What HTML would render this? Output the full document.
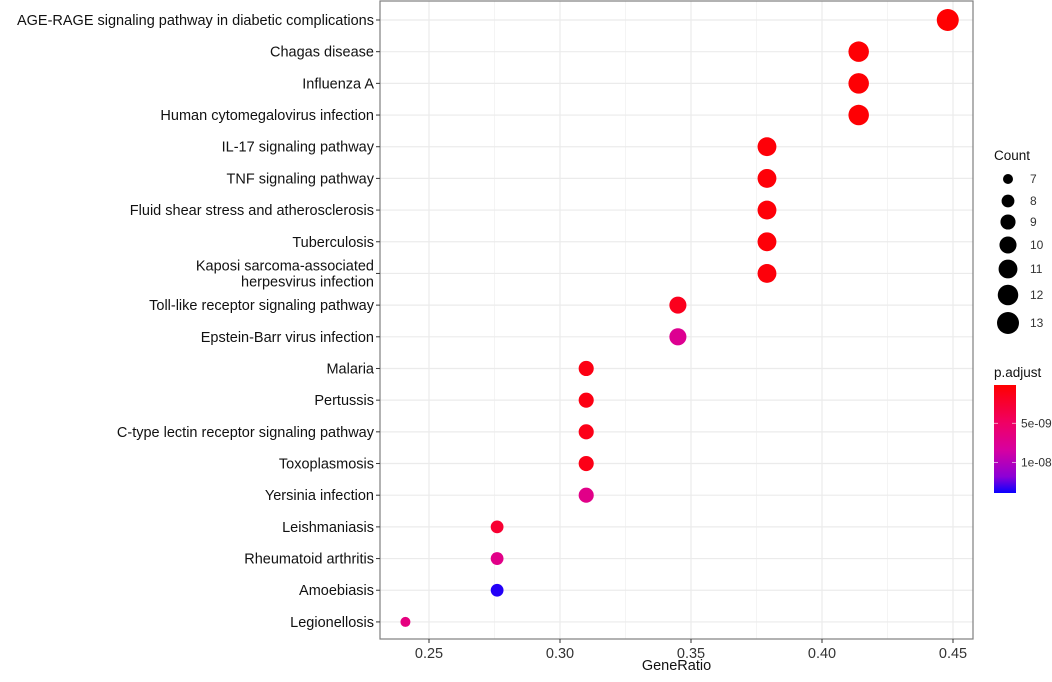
<!DOCTYPE html>
<html><head><meta charset="utf-8"><style>
body{margin:0;background:#fff;font-family:"Liberation Sans",Arial,sans-serif;}
svg text{font-family:"Liberation Sans",Arial,sans-serif;}
</style></head><body>
<svg id="chart" width="1052" height="677" xmlns="http://www.w3.org/2000/svg">
<rect width="1052" height="677" fill="#fff"/>
<g id="grid"></g><g id="dots"></g><g id="ylabels"></g><g id="xaxis"></g><g id="legend"></g>
</svg>
<script>
const terms=["AGE-RAGE signaling pathway in diabetic complications","Chagas disease","Influenza A","Human cytomegalovirus infection","IL-17 signaling pathway","TNF signaling pathway","Fluid shear stress and atherosclerosis","Tuberculosis","Kaposi sarcoma-associated|herpesvirus infection","Toll-like receptor signaling pathway","Epstein-Barr virus infection","Malaria","Pertussis","C-type lectin receptor signaling pathway","Toxoplasmosis","Yersinia infection","Leishmaniasis","Rheumatoid arthritis","Amoebiasis","Legionellosis"];
const geneRatio=[0.448,0.414,0.414,0.414,0.379,0.379,0.379,0.379,0.379,0.345,0.345,0.310,0.310,0.310,0.310,0.310,0.276,0.276,0.276,0.241];
const counts=[13,12,12,12,11,11,11,11,11,10,10,9,9,9,9,9,8,8,8,7];
const padj=[2e-10,3e-10,3e-10,3e-10,5e-10,5e-10,5e-10,5e-10,6e-10,1.5e-9,7.5e-9,1e-9,1e-9,1.2e-9,1.2e-9,7e-9,2.5e-9,7e-9,1.35e-8,6.5e-9];
const xTicks=[0.25,0.30,0.35,0.40,0.45];
const xTickLabels=["0.25","0.30","0.35","0.40","0.45"];
const sizeBreaks=[7,8,9,10,11,12,13];
const colorBreaks=[5e-9,1e-8];
const colorBreakLabels=["5e-09","1e-08"];

const NS="http://www.w3.org/2000/svg";
const L=380,R=973,T=1,B=639;
const x=v=>429+(v-0.25)*2620;
const y=i=>20+i*31.68;
const rad=c=>Math.sqrt(25+(c-7)/6*96);
const pMin=1e-10,pMax=1.39e-8;
const stops=[[0,[255,0,0]],[0.35,[240,0,100]],[0.6,[215,0,160]],[0.85,[140,0,215]],[1,[10,0,255]]];
function col(p){let t=Math.max(0,Math.min(1,(p-pMin)/(pMax-pMin)));
 for(let k=1;k<stops.length;k++){if(t<=stops[k][0]){const a=stops[k-1],b=stops[k];const f=(t-a[0])/(b[0]-a[0]);
 return "rgb("+a[1].map((v,j)=>Math.round(v+(b[1][j]-v)*f)).join(",")+")";}}return "rgb(10,0,255)";}
function el(tag,attrs,parent,txt){const e=document.createElementNS(NS,tag);for(const k in attrs)e.setAttribute(k,attrs[k]);if(txt!=null)e.textContent=txt;parent.appendChild(e);return e;}
const grid=document.getElementById('grid');
el('rect',{x:L,y:T,width:R-L,height:B-T,fill:'#fff'},grid);
for(let i=0;i<xTicks.length-1;i++){const m=x((xTicks[i]+xTicks[i+1])/2);el('line',{x1:m,x2:m,y1:T,y2:B,stroke:'#f2f2f2','stroke-width':0.8},grid);}
xTicks.forEach(v=>el('line',{x1:x(v),x2:x(v),y1:T,y2:B,stroke:'#ebebeb','stroke-width':1.2},grid));
terms.forEach((t,i)=>el('line',{x1:L,x2:R,y1:y(i),y2:y(i),stroke:'#ebebeb','stroke-width':1.2},grid));
const dots=document.getElementById('dots');
terms.forEach((t,i)=>{const c=el('circle',{cx:x(geneRatio[i]),cy:y(i),r:rad(counts[i]),fill:col(padj[i])},dots);

});
el('rect',{x:L,y:T,width:R-L,height:B-T,fill:'none',stroke:'#7f7f7f','stroke-width':1.2},grid);
const yl=document.getElementById('ylabels');
terms.forEach((t,i)=>{el('line',{x1:L-4,x2:L,y1:y(i),y2:y(i),stroke:'#333'},yl);
 const parts=t.split('|');
 parts.forEach((p,k)=>{const tx=el('text',{x:L-6,y:y(i)+5+(parts.length>1?(k-0.5)*16:0),'text-anchor':'end','font-size':'14.5',fill:'#111'},yl,p);
 
 });});
const xa=document.getElementById('xaxis');
xTicks.forEach((v,i)=>{el('line',{x1:x(v),x2:x(v),y1:B,y2:B+4,stroke:'#333'},xa);
 const tx=el('text',{x:x(v),y:B+19,'text-anchor':'middle','font-size':'14.5',fill:'#333'},xa,xTickLabels[i]);
 
 });
const xt=el('text',{x:(L+R)/2,y:670,'text-anchor':'middle','font-size':'14.5',fill:'#111'},xa,'GeneRatio');


const lg=document.getElementById('legend');
const ct=el('text',{x:994,y:160,'font-size':'13.5',fill:'#111'},lg,'Count');


const ly=[179,201,222,245,269,295,323];
sizeBreaks.forEach((s,i)=>{const c=el('circle',{cx:1008,cy:ly[i],r:rad(s),fill:'#000'},lg);
 
 
 el('text',{x:1030,y:ly[i]+4,'font-size':'12',fill:'#333'},lg,String(s));});
const pt=el('text',{x:994,y:377,'font-size':'13.5',fill:'#111'},lg,'p.adjust');


const cbT=385,cbB=493;
const defs=el('defs',{},lg);const g=el('linearGradient',{id:'cb',x1:0,y1:0,x2:0,y2:1},defs);
for(let k=0;k<=20;k++){const p=pMin+(pMax-pMin)*k/20;el('stop',{offset:k/20,'stop-color':col(p)},g);}
const cb=el('rect',{x:994,y:cbT,width:22,height:cbB-cbT,fill:'url(#cb)'},lg);


colorBreaks.forEach((p,i)=>{const yy=cbT+(p-pMin)/(pMax-pMin)*(cbB-cbT);
 el('line',{x1:994,x2:998,y1:yy,y2:yy,stroke:'#fff','stroke-opacity':0.6},lg);
 el('line',{x1:1012,x2:1016,y1:yy,y2:yy,stroke:'#fff','stroke-opacity':0.6},lg);
 el('text',{x:1021,y:yy+4,'font-size':'12',fill:'#333'},lg,colorBreakLabels[i]);});
</script>
</body></html>
